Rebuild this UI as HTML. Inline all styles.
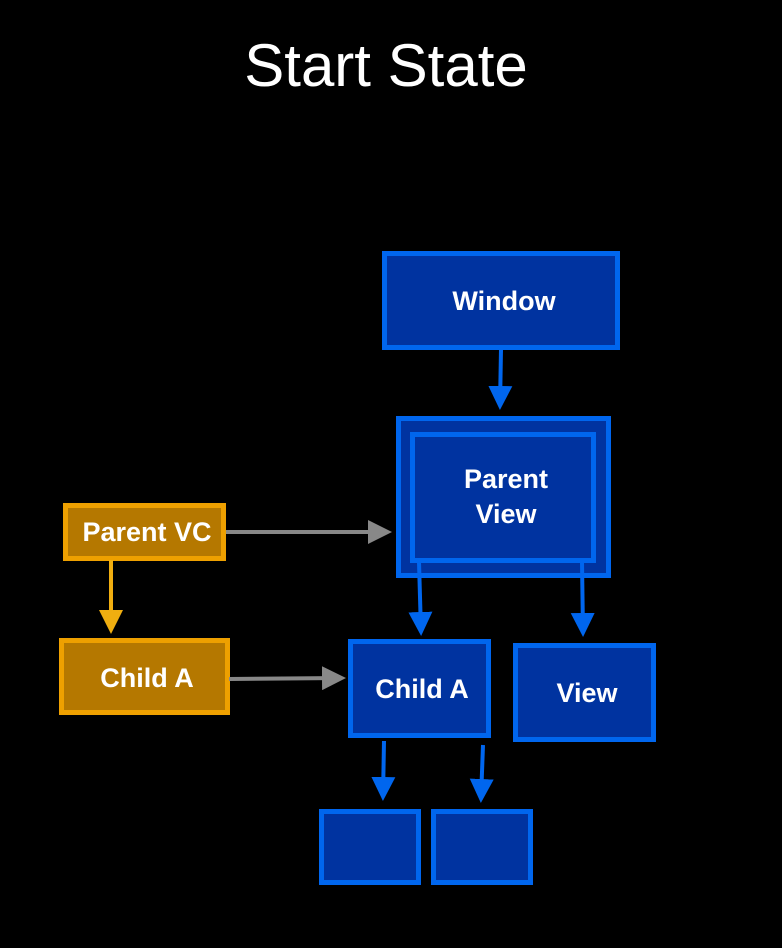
<!DOCTYPE html>
<html><head><style>body{margin:0;background:#000;}svg{display:block}</style></head><body>
<svg width="782" height="948" xmlns="http://www.w3.org/2000/svg" font-family="Liberation Sans, sans-serif">
<rect width="782" height="948" fill="#000"/>
<text x="386" y="86" font-size="60" fill="#fff" text-anchor="middle">Start State</text>
<defs>
<marker id="b" markerWidth="6" markerHeight="6" refX="5" refY="3" orient="auto" markerUnits="strokeWidth"><path d="M0,0L6,3L0,6z" fill="#0066ee"/></marker>
<marker id="o" markerWidth="6" markerHeight="6" refX="5" refY="3" orient="auto" markerUnits="strokeWidth"><path d="M0,0L6,3L0,6z" fill="#f0ae10"/></marker>
<marker id="g" markerWidth="6" markerHeight="6" refX="5" refY="3" orient="auto" markerUnits="strokeWidth"><path d="M0,0L6,3L0,6z" fill="#888"/></marker>
</defs>
<g fill="#0033a0" stroke="#0066ee" stroke-width="5">
<rect x="384.5" y="253.5" width="233" height="94"/>
<rect x="398.5" y="418.5" width="210" height="157"/>
<rect x="412.5" y="434.5" width="181" height="126"/>
<rect x="350.5" y="641.5" width="138" height="94"/>
<rect x="515.5" y="645.5" width="138" height="94"/>
<rect x="321.5" y="811.5" width="97" height="71"/>
<rect x="433.5" y="811.5" width="97" height="71"/>
</g>
<g fill="#b57800" stroke="#eea000" stroke-width="5">
<rect x="65.5" y="505.5" width="158" height="53"/>
<rect x="61.5" y="640.5" width="166" height="72"/>
</g>
<g stroke-width="4" fill="none">
<line x1="501" y1="349" x2="500" y2="406" stroke="#0066ee" marker-end="url(#b)"/>
<line x1="419" y1="562" x2="421" y2="632" stroke="#0066ee" marker-end="url(#b)"/>
<line x1="582" y1="562" x2="583" y2="633" stroke="#0066ee" marker-end="url(#b)"/>
<line x1="384" y1="741" x2="383" y2="797" stroke="#0066ee" marker-end="url(#b)"/>
<line x1="483" y1="745" x2="481" y2="799" stroke="#0066ee" marker-end="url(#b)"/>
<line x1="111" y1="560" x2="111" y2="630" stroke="#f0ae10" marker-end="url(#o)"/>
<line x1="226" y1="532" x2="388" y2="532" stroke="#888" marker-end="url(#g)"/>
<line x1="229" y1="679" x2="342" y2="678" stroke="#888" marker-end="url(#g)"/>
</g>
<g fill="#fff" font-weight="bold" font-size="27" text-anchor="middle">
<text x="504" y="310">Window</text>
<text x="506" y="488">Parent</text>
<text x="506" y="523">View</text>
<text x="147" y="541">Parent VC</text>
<text x="147" y="687">Child A</text>
<text x="422" y="698">Child A</text>
<text x="587" y="702">View</text>
</g>
</svg>
</body></html>
